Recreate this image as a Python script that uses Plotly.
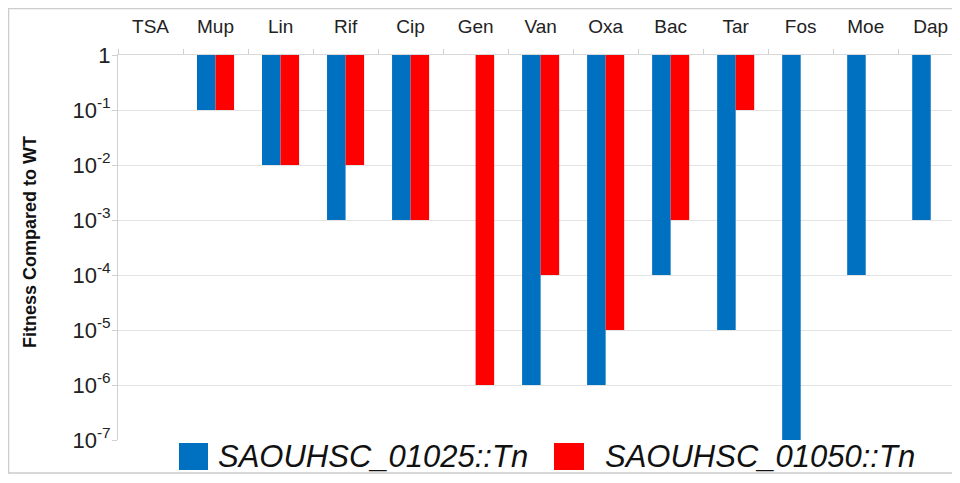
import plotly.graph_objects as go

categories = ["TSA", "Mup", "Lin", "Rif", "Cip", "Gen", "Van", "Oxa", "Bac", "Tar", "Fos", "Moe", "Dap"]
series_names = ["SAOUHSC_01025::Tn", "SAOUHSC_01050::Tn"]
fit_01025 = [None, 1e-1, 1e-2, 1e-3, 1e-3, None, 1e-6, 1e-6, 1e-4, 1e-5, 1e-7, 1e-4, 1e-3]
fit_01050 = [None, 1e-1, 1e-2, 1e-2, 1e-3, 1e-6, 1e-4, 1e-5, 1e-3, 1e-1, None, None, None]
tick_vals = [1, 1e-1, 1e-2, 1e-3, 1e-4, 1e-5, 1e-6, 1e-7]
tick_text = ["1", "10<sup>-1</sup>", "10<sup>-2</sup>", "10<sup>-3</sup>", "10<sup>-4</sup>",
             "10<sup>-5</sup>", "10<sup>-6</sup>", "10<sup>-7</sup>"]
colors = ["#0070C0", "#FF0000"]

# page body has an 8px margin: figure coordinates = page coordinates - 8
OFF = 8
W, H = 960 - OFF, 483 - OFF
L, T = 118 - OFF, 55 - OFF
PB = 440 - OFF
R, B = 0, H - PB
PW, PH = W - L - R, PB - T

def px(x):
    return (x - OFF - L) / PW

def py(y):
    return (PB - (y - OFF)) / PH

fig = go.Figure()
for name, vals, col in zip(series_names, [fit_01025, fit_01050], colors):
    fig.add_trace(go.Bar(
        x=categories,
        y=[(v - 1) if v is not None else None for v in vals],
        base=[1] * len(vals),
        name=name,
        marker=dict(color=col, line=dict(width=0)),
        showlegend=False,
    ))

FONT = "Liberation Sans, Arial, sans-serif"
fig.update_layout(
    width=W, height=H,
    margin=dict(l=L, r=R, t=T, b=B),
    paper_bgcolor="white", plot_bgcolor="white",
    barmode="group", bargap=0.43, bargroupgap=0,
    font=dict(family=FONT, color="#222222"),
    xaxis=dict(
        side="top", range=[-0.5, 12.45], tickson="boundaries",
        ticks="outside", ticklen=5, tickcolor="#d0d0d0",
        showline=True, linecolor="#d9d9d9", showgrid=False,
        tickfont=dict(size=19, family=FONT, color="#222222"),
        ticklabelstandoff=13,
    ),
    yaxis=dict(
        type="log", range=[-7, 0],
        tickvals=tick_vals, ticktext=tick_text,
        ticks="outside", ticklen=5, tickcolor="#d0d0d0",
        showline=True, linecolor="#d0d0d0",
        showgrid=True, gridcolor="#e3e3e3", zeroline=False,
        tickfont=dict(size=22, family=FONT, color="#222222"),
        ticklabelstandoff=-3,
    ),
)

# y-axis title
fig.add_annotation(
    text="<b>Fitness Compared to WT</b>", textangle=-90,
    xref="paper", yref="paper", x=px(30), y=py(242),
    xanchor="center", yanchor="middle", showarrow=False,
    font=dict(size=18, family=FONT, color="#111111"),
)

# outer frame
fig.add_shape(type="rect", xref="paper", yref="paper",
              x0=px(OFF + 0.5), x1=px(1000), y0=py(473), y1=py(OFF + 0.5),
              line=dict(color="#cccccc", width=1.5), fillcolor="rgba(0,0,0,0)", layer="below")

# custom legend
leg = [(179, 208, 216), (554, 584, 603)]
for (sx0, sx1, tx), name, col in zip(leg, series_names, colors):
    fig.add_shape(type="rect", xref="paper", yref="paper",
                  x0=px(sx0), x1=px(sx1), y0=py(470), y1=py(443),
                  line=dict(width=0), fillcolor=col)
    fig.add_annotation(text="<i>" + name + "</i>", xref="paper", yref="paper",
                       x=px(tx), y=py(456), xanchor="left", yanchor="middle",
                       showarrow=False,
                       font=dict(size=31, family=FONT, color="#111111"))

fig.write_html("out.html")
